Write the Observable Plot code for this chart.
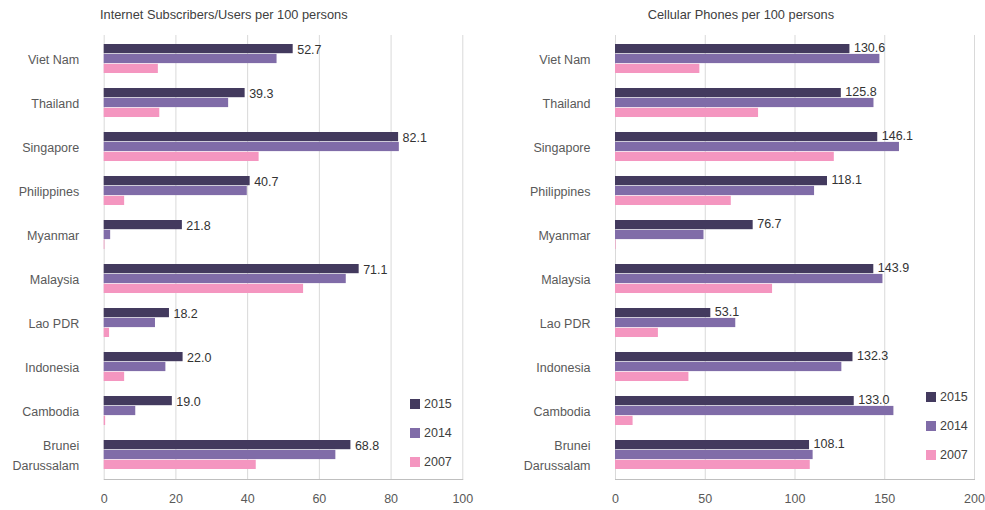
<!DOCTYPE html>
<html>
<head>
<meta charset="utf-8">
<script src="https://cdn.jsdelivr.net/npm/d3@7"></script>
<script src="https://cdn.jsdelivr.net/npm/@observablehq/plot@0.6"></script>
<style>
  html, body { margin: 0; padding: 0; background: #fff; }
  body { font-family: "Liberation Sans", Arial, sans-serif; }
  #wrap { position: relative; width: 985px; height: 510px; overflow: hidden; }
  .panel { position: absolute; top: 0; height: 510px; }
  .title { position: absolute; top: 7px; font-size: 12.8px; line-height: 16px; color: #404040; white-space: nowrap; }
  .panel svg { position: absolute; top: 24px; left: 0; overflow: visible; }
  .legend { position: absolute; font-size: 12.5px; color: #404040; }
  .legend .item { position: absolute; left: 0; height: 16px; line-height: 16px; white-space: nowrap; }
  .legend .sw { display: inline-block; width: 10px; height: 10px; vertical-align: -1px; margin-right: 4px; }
</style>
</head>
<body>
<div id="wrap">
  <div class="panel" id="left" style="left:0;width:490px;"></div>
  <div class="panel" id="right" style="left:490px;width:495px;"></div>
</div>
<script>
const countries = ["Viet Nam","Thailand","Singapore","Philippines","Myanmar","Malaysia","Lao PDR","Indonesia","Cambodia","Brunei\nDarussalam"];
const years = ["2015","2014","2007"];
const colors = ["#433a5e","#806ca8","#f496c0"];

const internet2015 = [52.7, 39.3, 82.1, 40.7, 21.8, 71.1, 18.2, 22.0, 19.0, 68.8];
const internet2014 = [48.2, 34.7, 82.3, 39.9, 1.8, 67.5, 14.3, 17.2, 8.8, 64.6];
const internet2007 = [15.1, 15.5, 43.2, 5.7, 0.2, 55.6, 1.5, 5.7, 0.4, 42.4];

const cell2015 = [130.6, 125.8, 146.1, 118.1, 76.7, 143.9, 53.1, 132.3, 133.0, 108.1];
const cell2014 = [147.3, 144.0, 158.2, 110.9, 49.3, 149.0, 67.0, 126.1, 155.1, 110.1];
const cell2007 = [47.0, 79.7, 121.9, 64.5, 0.3, 87.5, 23.9, 40.9, 9.8, 108.5];

const internetTicks = [0, 20, 40, 60, 80, 100];
const cellTicks = [0, 50, 100, 150, 200];

const titles = ["Internet Subscribers/Users per 100 persons", "Cellular Phones per 100 persons"];

function rows(vals) { return countries.map((c, i) => ({country: c, value: vals[i]})); }

function panel({series, ticks, width, marginLeft, marginRight, labelDy}) {
  const [s15, s14, s07] = series.map(rows);
  const barStyle = (i, top, bottom) => ({x: "value", y: "country", fill: colors[i], insetTop: top, insetBottom: bottom});
  return Plot.plot({
    width, height: 486,
    marginTop: 11, marginBottom: 31, marginLeft, marginRight,
    style: {fontFamily: "'Liberation Sans', Arial, sans-serif", fontSize: "12.5px", color: "#595959", background: "transparent", overflow: "visible"},
    x: {domain: [ticks[0], ticks[ticks.length - 1]], ticks, label: null},
    y: {domain: countries, paddingInner: 0.33, paddingOuter: 0.165, label: null},
    marks: [
      Plot.gridX(ticks, {stroke: "#d9d9d9", strokeOpacity: 1}),
      Plot.frame({anchor: "bottom", stroke: "#bfbfbf"}),
      Plot.barX(s15, barStyle(0, 0, 19.8)),
      Plot.barX(s14, barStyle(1, 9.9, 9.9)),
      Plot.barX(s07, barStyle(2, 19.8, 0)),
      Plot.text(s15, {x: "value", y: "country", text: d => d.value.toFixed(1), textAnchor: "start", dx: 4, dy: labelDy, fill: "#333333", fontSize: 12.5}),
      Plot.axisX(ticks, {tickSize: 0, tickPadding: 15, fill: "#595959", fontSize: 12.5, label: null}),
      Plot.axisY({tickSize: 0, tickPadding: 25, fill: "#595959", fontSize: 12.5, lineHeight: 1.57, dy: -1.5, label: null})
    ]
  });
}

function addPanel(id, title, titleLeft, plot, legendLeft, legendTop) {
  const el = document.getElementById(id);
  const t = document.createElement("div");
  t.className = "title"; t.textContent = title; t.style.left = titleLeft + "px";
  el.appendChild(t);
  el.appendChild(plot);
  const lg = document.createElement("div");
  lg.className = "legend"; lg.style.left = legendLeft + "px"; lg.style.top = legendTop + "px";
  years.forEach((y, i) => {
    const it = document.createElement("div");
    it.className = "item"; it.style.top = (i * 29) + "px";
    const sw = document.createElement("span"); sw.className = "sw"; sw.style.background = colors[i];
    it.appendChild(sw); it.appendChild(document.createTextNode(y));
    lg.appendChild(it);
  });
  el.appendChild(lg);
}

addPanel("left", titles[0], 100,
  panel({series: [internet2015, internet2014, internet2007], ticks: internetTicks, width: 490, marginLeft: 103.7, marginRight: 27.7, labelDy: -9}),
  410, 396.3);
addPanel("right", titles[1], 157.7,
  panel({series: [cell2015, cell2014, cell2007], ticks: cellTicks, width: 495, marginLeft: 125, marginRight: 11, labelDy: -11}),
  436, 388.7);
</script>
</body>
</html>
